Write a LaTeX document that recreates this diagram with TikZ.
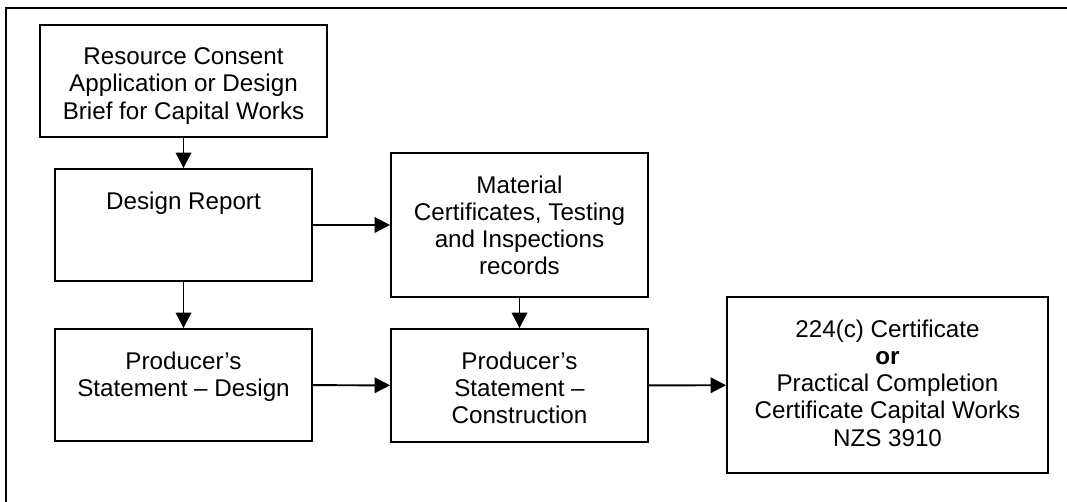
\documentclass[tikz,border=0pt]{standalone}
\usepackage{fontspec}
\setmainfont{Liberation Sans}
\usepackage{tikz}
\usetikzlibrary{arrows.meta, positioning}

\begin{document}
\begin{tikzpicture}[
    x=0.025cm, y=-0.025cm,
    box/.style={rectangle, draw, line width=1.3pt, inner sep=0pt},
    lbl/.style={anchor=north, yshift=-16.5pt, inner sep=0pt, align=center,
        font=\fontsize{17.2pt}{19.4pt}\selectfont},
    arr/.style={-{Triangle[length=11pt, width=11pt]}, line width=1.4pt}
]
    \useasboundingbox (0,0) rectangle (1067,501);
    \clip (0,0) rectangle (1067,501);
    \draw[line width=1.8pt] (6,8) rectangle (1120,560);

    \node[box, minimum width=7.175cm, minimum height=2.8cm,
        label={[lbl]north:{Resource Consent\\Application or Design\\Brief for Capital Works}}]
        (consent) at (183.5, 81) {};
    \node[box, minimum width=6.425cm, minimum height=2.8cm,
        label={[lbl]north:{Design Report}}]
        (design) at (183.5, 225) {};
    \node[box, minimum width=6.425cm, minimum height=2.8cm,
        label={[lbl]north:{Producer’s\\Statement – Design}}]
        (psdesign) at (183.5, 385) {};

    \node[box, minimum width=6.425cm, minimum height=3.6cm,
        label={[lbl]north:{Material\\Certificates, Testing\\and Inspections\\records}}]
        (material) at (519.5, 225) {};
    \node[box, minimum width=6.425cm, minimum height=2.825cm,
        label={[lbl]north:{Producer’s\\Statement –\\Construction}}]
        (pscons) at (519.5, 385.5) {};

    \node[box, minimum width=8.025cm, minimum height=4.4cm,
        label={[lbl]north:{224(c) Certificate\\\textbf{or}\\Practical Completion\\Certificate Capital Works\\NZS 3910}}]
        (final) at (887.5, 385) {};

    \draw[arr] (consent) -- (design);
    \draw[arr] (design) -- (psdesign);
    \draw[arr] (design) -- (material);
    \draw[arr] (material) -- (pscons);
    \draw[arr] (psdesign) -- (pscons);
    \draw[arr] (pscons) -- (final);
\end{tikzpicture}
\end{document}
